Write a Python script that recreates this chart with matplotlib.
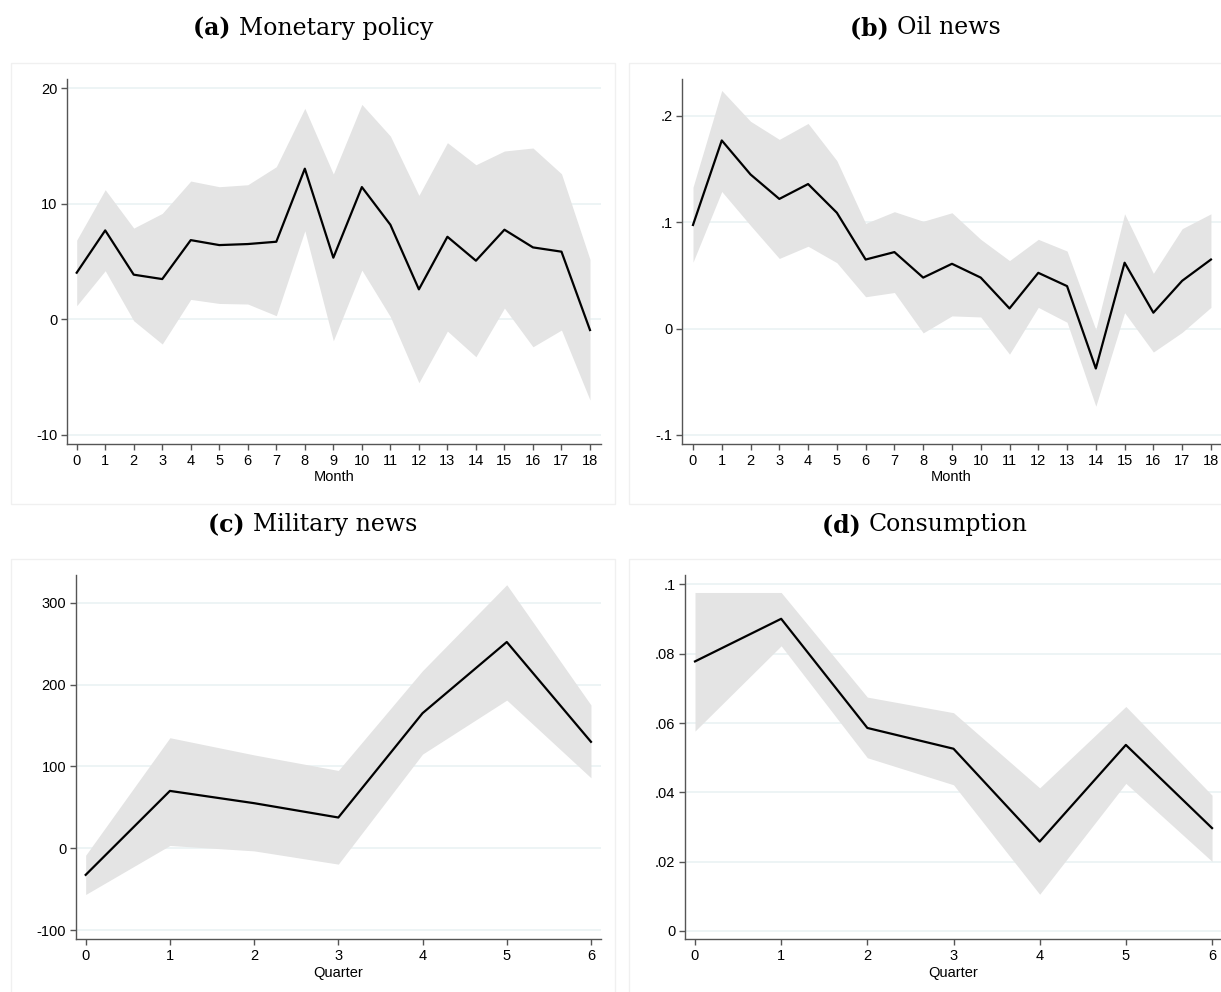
import matplotlib
matplotlib.use("Agg")
import matplotlib.pyplot as plt
from matplotlib.patches import Rectangle

W, H = 1221, 992

# (a) Monetary policy, months 0-18
months = list(range(19))
mp_irf = [4.04, 7.70, 3.87, 3.49, 6.86, 6.43, 6.52, 6.72, 13.04, 5.34,
          11.45, 8.19, 2.60, 7.15, 5.08, 7.76, 6.23, 5.86, -0.92]
mp_hi = [6.86, 11.22, 7.90, 9.17, 11.97, 11.48, 11.65, 13.21, 18.26, 12.58,
         18.60, 15.86, 10.73, 15.29, 13.38, 14.57, 14.83, 12.60, 5.19]
mp_lo = [1.18, 4.21, -0.12, -2.13, 1.73, 1.38, 1.33, 0.32, 7.67, -1.85,
         4.27, 0.23, -5.48, -1.01, -3.23, 0.98, -2.37, -0.92, -6.98]

# (b) Oil news
oil_irf = [0.0975, 0.177, 0.145, 0.122, 0.136, 0.109, 0.065, 0.072, 0.048, 0.061,
           0.048, 0.019, 0.0525, 0.040, -0.0375, 0.062, 0.015, 0.045, 0.065]
oil_hi = [0.133, 0.224, 0.195, 0.178, 0.193, 0.158, 0.099, 0.110, 0.101, 0.109,
          0.084, 0.064, 0.084, 0.073, -0.001, 0.108, 0.052, 0.094, 0.108]
oil_lo = [0.0625, 0.129, 0.097, 0.066, 0.0775, 0.062, 0.030, 0.034, -0.004, 0.012,
          0.011, -0.024, 0.020, 0.006, -0.073, 0.015, -0.022, -0.0035, 0.020]

# (c) Military news, quarters 0-6
quarters = list(range(7))
mil_irf = [-32.6, 70, 55, 37.5, 165, 252, 130]
mil_hi = [-8.6, 135, 114, 95, 217, 322, 175]
mil_lo = [-56.6, 3.3, -3.3, -19.5, 115, 181, 86]

# (d) Consumption
con_irf = [0.0778, 0.0901, 0.0586, 0.0526, 0.0258, 0.0537, 0.0297]
con_hi = [0.0977, 0.0977, 0.0675, 0.0630, 0.0413, 0.0648, 0.0392]
con_lo = [0.0577, 0.0823, 0.0500, 0.0422, 0.0106, 0.0426, 0.0201]

mp_yticks = [-10, 0, 10, 20]
mp_ylabels = ["-10", "0", "10", "20"]
oil_yticks = [-0.1, 0, 0.1, 0.2]
oil_ylabels = ["-.1", "0", ".1", ".2"]
mil_yticks = [-100, 0, 100, 200, 300]
mil_ylabels = ["-100", "0", "100", "200", "300"]
con_yticks = [0, 0.02, 0.04, 0.06, 0.08, 0.1]
con_ylabels = ["0", ".02", ".04", ".06", ".08", ".1"]

titles = ["(a)", "(b)", "(c)", "(d)"]
names = ["Monetary policy", "Oil news", "Military news", "Consumption"]

fig = plt.figure(figsize=(W / 100, H / 100), dpi=100)
fig.patch.set_facecolor("white")

def px_rect(l, r, t, b):
    return [l / W, 1 - b / H, (r - l) / W, (b - t) / H]

# faint boxes round each panel
for l, r, t, b in [(11, 615, 63, 504), (629, 1230, 63, 504),
                   (11, 615, 559, 1000), (629, 1230, 559, 1000)]:
    fig.patches.append(Rectangle((l / W, 1 - b / H), (r - l) / W, (b - t) / H,
                                 transform=fig.transFigure, fill=False,
                                 edgecolor="#f0f0f0", lw=1.0))

def panel(rect, x, irf, lo, hi, xlim, ylim, yt, yl, xlabel):
    ax = fig.add_axes(px_rect(*rect))
    ax.fill_between(x, lo, hi, color="#e4e4e4", lw=0, zorder=1)
    ax.plot(x, irf, color="black", lw=1.6, zorder=3)
    ax.set_xlim(*xlim)
    ax.set_ylim(*ylim)
    ax.set_xticks(x)
    ax.set_xticklabels([str(v) for v in x])
    ax.set_yticks(yt)
    ax.set_yticklabels(yl)
    for v in yt:
        ax.axhline(v, color="#eaf2f3", lw=1.2, zorder=0)
    for s in ["top", "right"]:
        ax.spines[s].set_visible(False)
    for s in ["left", "bottom"]:
        ax.spines[s].set_color("#555555")
        ax.spines[s].set_linewidth(1.0)
    ax.tick_params(axis="both", direction="out", length=4.5, width=1.0,
                   color="#555555", labelsize=10.5, pad=2.5,
                   labelfontfamily="Liberation Sans")
    ax.set_xlabel(xlabel, fontsize=10.5, family="Liberation Sans", labelpad=2)
    return ax

panel((67, 601, 79, 444), months, mp_irf, mp_lo, mp_hi,
      (-0.34, 18.386), (-10.78, 20.80), mp_yticks, mp_ylabels, "Month")
panel((682, 1221, 79, 444), months, oil_irf, oil_lo, oil_hi,
      (-0.382, 18.35), (-0.1085, 0.2348), oil_yticks, oil_ylabels, "Month")
panel((76, 601, 575, 939), quarters, mil_irf, mil_lo, mil_hi,
      (-0.115, 6.119), (-111, 333.9), mil_yticks, mil_ylabels, "Quarter")
panel((685, 1221, 575, 939), quarters, con_irf, con_lo, con_hi,
      (-0.116, 6.104), (-0.00231, 0.10274), con_yticks, con_ylabels, "Quarter")

# panel captions: bold letter, regular name, centred as one line
cap_font = "DejaVu Serif"
cap_size = 17
renderer = fig.canvas.get_renderer()
centres = [(313, 28), (925, 28), (313, 525), (925, 525)]
for (cx, cy), tag, name in zip(centres, titles, names):
    t1 = fig.text(0, 1 - cy / H, tag + " ", fontsize=cap_size, fontweight="bold",
                  family=cap_font, va="center")
    t2 = fig.text(0, 1 - cy / H, name, fontsize=cap_size,
                  family=cap_font, va="center")
    w1 = t1.get_window_extent(renderer).width
    w2 = t2.get_window_extent(renderer).width
    left = cx - (w1 + w2) / 2
    t1.set_x(left / W)
    t2.set_x((left + w1) / W)

fig.savefig("out.png", dpi=100, facecolor="white")
